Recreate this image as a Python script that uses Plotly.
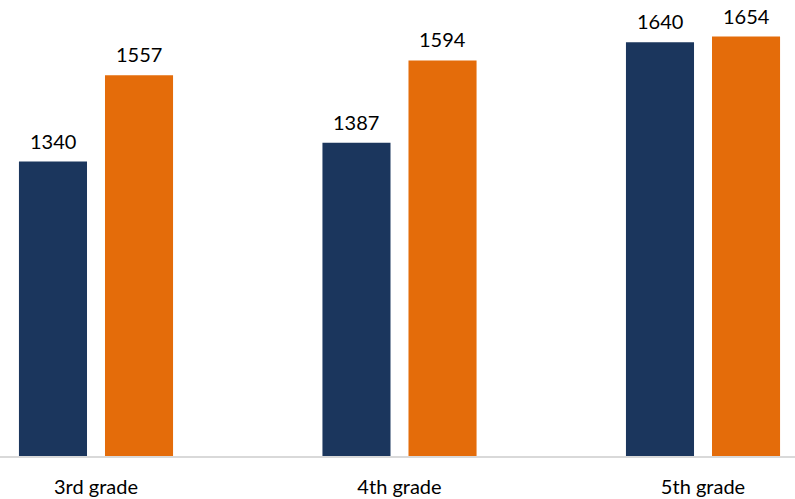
import plotly.graph_objects as go

categories = ["3rd grade", "4th grade", "5th grade"]
series_a = [1340, 1387, 1640]
series_b = [1557, 1594, 1654]
colors = ["#1b365d", "#e46c0a"]

FONT = "Lato, 'Open Sans', sans-serif"
BARGAP = 0.433
BARGROUPGAP = 0.209

fig = go.Figure()
for vals, col in zip([series_a, series_b], colors):
    fig.add_trace(go.Bar(
        x=categories, y=vals, marker=dict(color=col, line=dict(width=0)),
        showlegend=False, hoverinfo="skip",
    ))

# value labels above bars
slot = (1 - BARGAP) / 2
for k, vals in enumerate([series_a, series_b]):
    off = (k - 0.5) * slot
    for i, v in enumerate(vals):
        fig.add_annotation(
            x=i + off, y=v, xref="x", yref="y", text=str(v),
            showarrow=False, yanchor="bottom", xanchor="center", yshift=7,
            font=dict(family=FONT, size=20, color="#000000"),
        )

fig.update_layout(
    width=795, height=499,
    margin=dict(l=0, r=0, t=0, b=43),
    paper_bgcolor="white", plot_bgcolor="white",
    barmode="group", bargap=BARGAP, bargroupgap=BARGROUPGAP,
    xaxis=dict(
        type="category", range=[-0.3163, 2.3031],
        showline=True, linecolor="#d9d9d9", linewidth=1.5,
        showgrid=False, ticks="", ticklabelstandoff=12,
        tickfont=dict(family=FONT, size=20, color="#000000"),
        fixedrange=True,
    ),
    yaxis=dict(
        range=[600, 1746], visible=False, showgrid=False, zeroline=False,
        fixedrange=True,
    ),
)

fig.write_html("out.html")
